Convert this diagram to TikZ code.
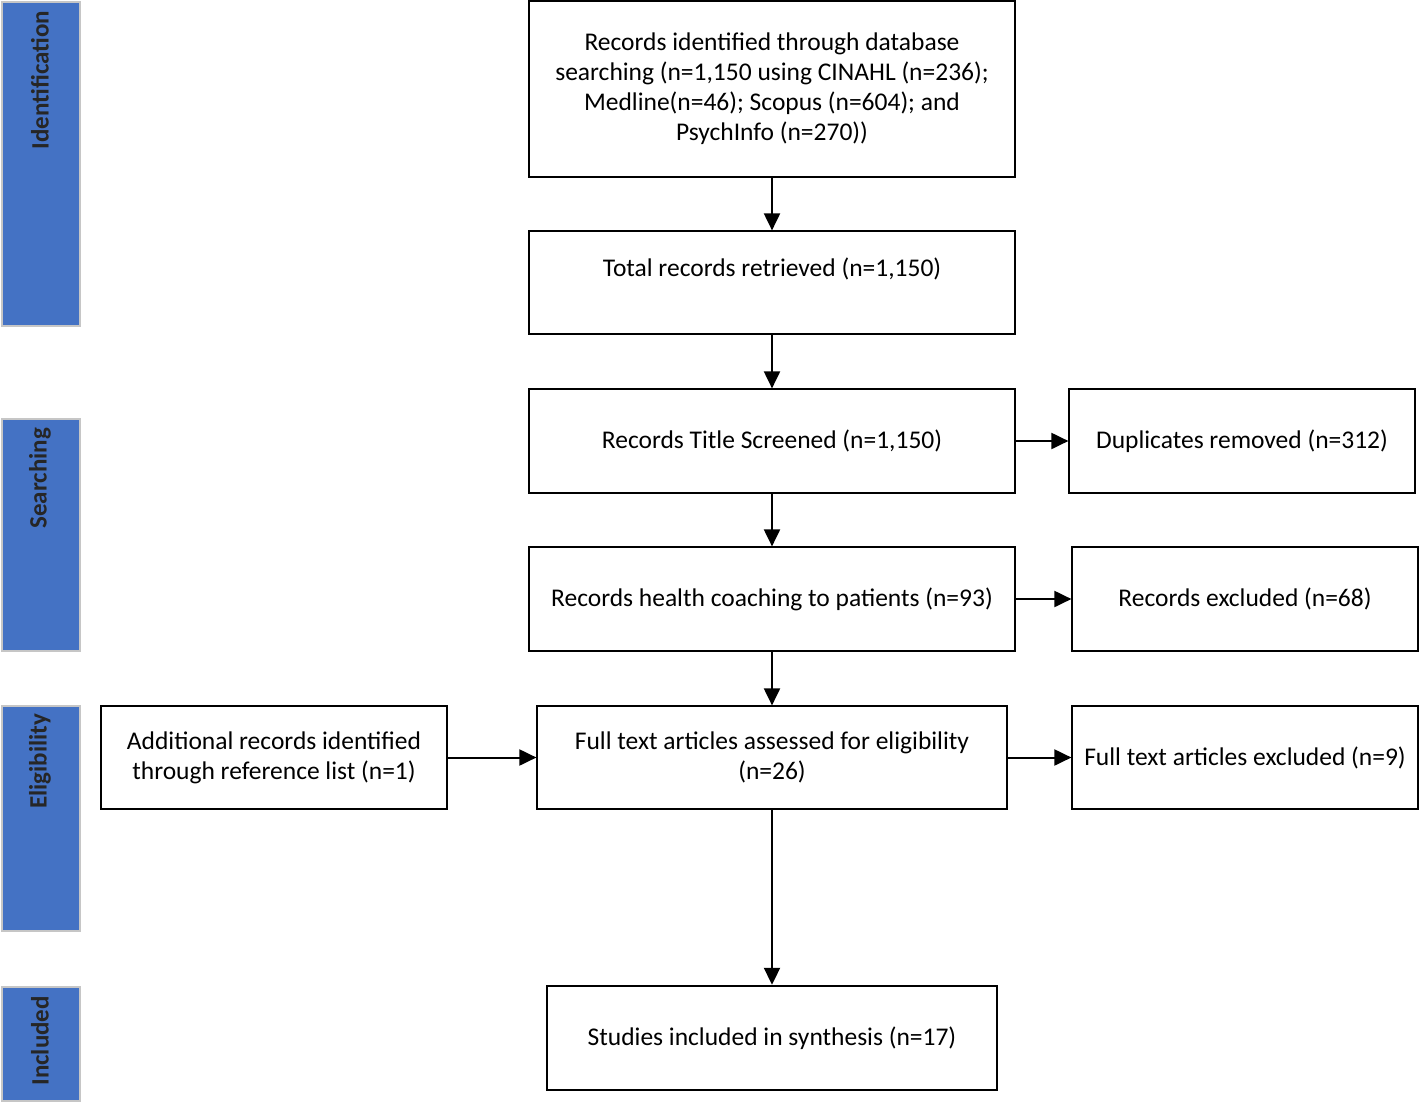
\documentclass[tikz,border=0pt]{standalone}
\usepackage{fontspec}
\setmainfont{Carlito}
\usetikzlibrary{arrows.meta}
\definecolor{stageblue}{HTML}{4472C4}

\begin{document}
\begin{tikzpicture} [x=.5pt,y=-.5pt,
  box/.style={draw, line width=.6pt, align=center, inner sep=0pt, font=\fontsize{12.75}{15}\selectfont},
  thickbox/.style={box, line width=1.2pt},
  stage/.style={draw=gray!45, line width=.6pt, fill=stageblue, minimum width=39pt, inner sep=0pt},
  stagetext/.style={rotate=90, anchor=east, font=\fontsize{12.5}{15}\selectfont\bfseries, text=black!85},
  arr/.style={line width=1pt, -{Triangle[length=8.5pt,width=8pt]}}]
\useasboundingbox (0,0) rectangle (1419,1103);
% stages on the left
\node[stage, minimum height=162pt] (idbar) at (41,164) {};
\node[stage, minimum height=116pt] (sebar) at (41,535) {};
\node[stage, minimum height=112.5pt] (elbar) at (41,818.5) {};
\node[stage, minimum height=57pt] (inbar) at (41,1044) {};
\node[stagetext] at (40,4) {Identification};
\node[stagetext] at (40,421) {Searching};
\node[stagetext] at (40,707) {Eligibility};
\node[stagetext] at (40,989) {Included};
% main column
\node[thickbox, minimum width=243pt, minimum height=88pt] (ident) at (772,89)
  {Records identified through database\\ searching (n=1,150 using CINAHL (n=236);\\ Medline(n=46); Scopus (n=604); and\\ PsychInfo (n=270))};
\node[box, minimum width=243pt, minimum height=51.5pt] (total) at (772,282.5)
  {Total records retrieved (n=1,150)\\~};
\node[box, minimum width=243pt, minimum height=52pt] (title) at (772,441)
  {Records Title Screened (n=1,150)};
\node[box, minimum width=243pt, minimum height=52pt] (coach) at (772,599)
  {Records health coaching to patients (n=93)};
\node[box, minimum width=235pt, minimum height=51.5pt] (full) at (772,757.5)
  {Full text articles assessed for eligibility\\ (n=26)};
\node[thickbox, minimum width=225pt, minimum height=52pt] (incl) at (772,1038)
  {Studies included in synthesis (n=17)};
% side boxes
\node[box, minimum width=173pt, minimum height=52pt] (dup) at (1242,441)
  {Duplicates removed (n=312)};
\node[box, minimum width=173pt, minimum height=52pt] (excl) at (1245,599)
  {Records excluded (n=68)};
\node[box, minimum width=173pt, minimum height=51.5pt] (ftex) at (1245,757.5)
  {Full text articles excluded (n=9)};
\node[box, minimum width=173pt, minimum height=51.5pt] (addl) at (274,757.5)
  {Additional records identified\\ through reference list (n=1)};
% arrows
\draw[arr] (ident) -- (total);
\draw[arr] (total) -- (title);
\draw[arr] (title) -- (coach);
\draw[arr] (coach) -- (full);
\draw[arr] (full) -- (incl);
\draw[arr] (title) -- (dup);
\draw[arr] (coach) -- (excl);
\draw[arr] (full) -- (ftex);
\draw[arr] (addl) -- (full);
\end{tikzpicture}
\end{document}
